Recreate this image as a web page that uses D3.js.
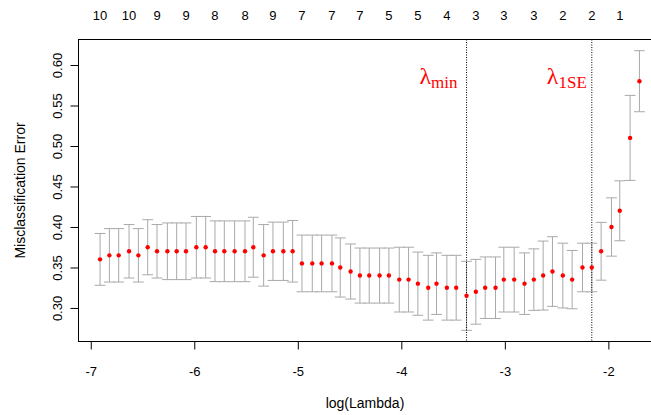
<!DOCTYPE html>
<html>
<head>
<meta charset="utf-8">
<script src="https://cdn.jsdelivr.net/npm/d3@7"></script>
<style>
  body { margin: 0; background: #fff; }
  text { font-family: "Liberation Sans", Arial, sans-serif; }
</style>
</head>
<body>
<svg id="chart" width="651" height="415"></svg>
<script>
// values
var logLambda = [-6.91, -6.82, -6.73, -6.63, -6.54, -6.45, -6.36, -6.26, -6.17, -6.08,
  -5.98, -5.89, -5.80, -5.71, -5.61, -5.51, -5.43, -5.33, -5.24, -5.14,
  -5.05, -4.96, -4.86, -4.77, -4.67, -4.59, -4.49, -4.40, -4.31, -4.21,
  -4.12, -4.02, -3.93, -3.84, -3.74, -3.66, -3.56, -3.47, -3.37, -3.28,
  -3.19, -3.09, -3.01, -2.91, -2.81, -2.72, -2.63, -2.54, -2.44, -2.35,
  -2.25, -2.16, -2.07, -1.97, -1.89, -1.79, -1.70];

var cvm = [0.360, 0.365, 0.365, 0.370, 0.365, 0.375, 0.370, 0.370, 0.370, 0.370,
  0.375, 0.375, 0.370, 0.370, 0.370, 0.370, 0.375, 0.365, 0.370, 0.370,
  0.370, 0.355, 0.355, 0.355, 0.355, 0.350, 0.345, 0.340, 0.340, 0.340,
  0.340, 0.335, 0.335, 0.330, 0.325, 0.330, 0.325, 0.325, 0.315, 0.320,
  0.325, 0.325, 0.335, 0.335, 0.330, 0.335, 0.340, 0.345, 0.340, 0.335,
  0.350, 0.350, 0.370, 0.400, 0.420, 0.510, 0.580];

var cvsd = [0.032, 0.033, 0.033, 0.033, 0.033, 0.034, 0.033, 0.035, 0.035, 0.035,
  0.038, 0.038, 0.0375, 0.0375, 0.0375, 0.0375, 0.037, 0.038, 0.036, 0.036,
  0.038, 0.035, 0.035, 0.035, 0.035, 0.0365, 0.034, 0.034, 0.034, 0.034,
  0.034, 0.040, 0.040, 0.039, 0.040, 0.038, 0.040, 0.040, 0.0426, 0.040,
  0.038, 0.038, 0.040, 0.040, 0.038, 0.038, 0.0426, 0.043, 0.040, 0.036,
  0.030, 0.030, 0.0357, 0.036, 0.037, 0.0525, 0.0377];

// number of nonzero coefficients, shown at every third lambda
var nzLabels = [10, 10, 9, 9, 8, 8, 9, 7, 7, 7, 5, 5, 4, 3, 3, 3, 2, 2, 1];

var xTicks = [-7, -6, -5, -4, -3, -2];
var yTicks = [0.30, 0.35, 0.40, 0.45, 0.50, 0.55, 0.60];

var data = logLambda.map(function(d, i) {
  return { x: d, y: cvm[i], lo: cvm[i] - cvsd[i], hi: cvm[i] + cvsd[i] };
});

var svg = d3.select('#chart');
var pLeft = 78.5, pTop = 39.5, pBottom = 341.5, pRight = 661;

// R style 4% axis expansion
var xr = d3.extent(logLambda), xpad = (xr[1] - xr[0]) * 0.04;
var yr = [d3.min(data, function(d) { return d.lo; }), d3.max(data, function(d) { return d.hi; })];
var ypad = (yr[1] - yr[0]) * 0.04;

var x = d3.scaleLinear().domain([xr[0] - xpad, xr[1] + xpad]).range([pLeft, pRight]);
var y = d3.scaleLinear().domain([yr[0] - ypad, yr[1] + ypad]).range([pBottom, pTop]);
var barw = (xr[1] - xr[0]) * 0.01;

// lambda.min and lambda.1se
var iMin = d3.minIndex(cvm);
var thresh = cvm[iMin] + cvsd[iMin];
var i1se = d3.max(d3.range(cvm.length).filter(function(i) { return cvm[i] <= thresh; }));

// box
svg.append('rect')
  .attr('x', pLeft).attr('y', pTop)
  .attr('width', pRight - pLeft).attr('height', pBottom - pTop)
  .attr('fill', 'none').attr('stroke', '#000').attr('stroke-width', 1);

// bottom axis
var xAxis = svg.append('g')
  .attr('transform', 'translate(0,' + pBottom + ')')
  .call(d3.axisBottom(x).tickValues(xTicks).tickSize(8).tickPadding(17)
    .tickFormat(function(d) { return String(d); }));
xAxis.select('.domain').remove();
xAxis.selectAll('text').attr('font-size', 13).attr('font-family', '"Liberation Sans", Arial, sans-serif');

// left axis
var yAxis = svg.append('g')
  .attr('transform', 'translate(' + pLeft + ',0)')
  .call(d3.axisLeft(y).tickValues(yTicks).tickSize(8)
    .tickFormat(d3.format('.2f')));
yAxis.select('.domain').remove();
yAxis.selectAll('.tick text')
  .attr('font-size', 13).attr('font-family', '"Liberation Sans", Arial, sans-serif')
  .attr('x', 0).attr('y', 0).attr('dy', '0.35em')
  .attr('text-anchor', 'middle')
  .attr('transform', 'translate(-21,0) rotate(-90)');

// top labels
svg.append('g')
  .selectAll('text')
  .data(logLambda.filter(function(d, i) { return i % 3 === 0; }))
  .enter().append('text')
  .attr('x', function(d) { return x(d); })
  .attr('y', 19.5)
  .attr('text-anchor', 'middle')
  .attr('font-size', 13)
  .text(function(d, i) { return nzLabels[i]; });

// axis titles
svg.append('text')
  .attr('x', 365).attr('y', 407.5)
  .attr('text-anchor', 'middle').attr('font-size', 14)
  .text('log(Lambda)');

svg.append('text')
  .attr('transform', 'translate(25,' + (pTop + pBottom) / 2 + ') rotate(-90)')
  .attr('text-anchor', 'middle').attr('font-size', 14)
  .text('Misclassification Error');

// error bars
var bars = svg.append('g').attr('stroke', '#a9a9a9').attr('stroke-width', 1).attr('fill', 'none');
bars.selectAll('.v').data(data).enter().append('line')
  .attr('x1', function(d) { return x(d.x); }).attr('x2', function(d) { return x(d.x); })
  .attr('y1', function(d) { return y(d.lo); }).attr('y2', function(d) { return y(d.hi); });
bars.selectAll('.u').data(data).enter().append('line')
  .attr('x1', function(d) { return x(d.x - barw); }).attr('x2', function(d) { return x(d.x + barw); })
  .attr('y1', function(d) { return y(d.hi); }).attr('y2', function(d) { return y(d.hi); });
bars.selectAll('.l').data(data).enter().append('line')
  .attr('x1', function(d) { return x(d.x - barw); }).attr('x2', function(d) { return x(d.x + barw); })
  .attr('y1', function(d) { return y(d.lo); }).attr('y2', function(d) { return y(d.lo); });

// dotted lines at lambda.min and lambda.1se
svg.append('g')
  .selectAll('line')
  .data([logLambda[iMin], logLambda[i1se]])
  .enter().append('line')
  .attr('x1', function(d) { return x(d); }).attr('x2', function(d) { return x(d); })
  .attr('y1', pTop).attr('y2', pBottom)
  .attr('stroke', '#000').attr('stroke-width', 1)
  .attr('stroke-dasharray', '1,1.5');

// points
svg.append('g')
  .selectAll('circle')
  .data(data)
  .enter().append('circle')
  .attr('r', 2.2)
  .attr('cx', function(d) { return x(d.x); })
  .attr('cy', function(d) { return y(d.y); })
  .attr('fill', 'red');

// lambda labels
var lam = svg.append('g')
  .selectAll('text')
  .data([{ v: logLambda[iMin], sub: 'min', off: 9 }, { v: logLambda[i1se], sub: '1SE', off: 5 }])
  .enter().append('text')
  .attr('x', function(d) { return x(d.v) - d.off; })
  .attr('y', 84)
  .attr('text-anchor', 'end')
  .attr('fill', 'red')
  .style('font-family', '"Liberation Serif", "Times New Roman", serif')
  .attr('font-size', 24);
lam.append('tspan').text('λ');
lam.append('tspan').attr('font-size', 17).attr('dy', 4).text(function(d) { return d.sub; });
</script>
</body>
</html>
